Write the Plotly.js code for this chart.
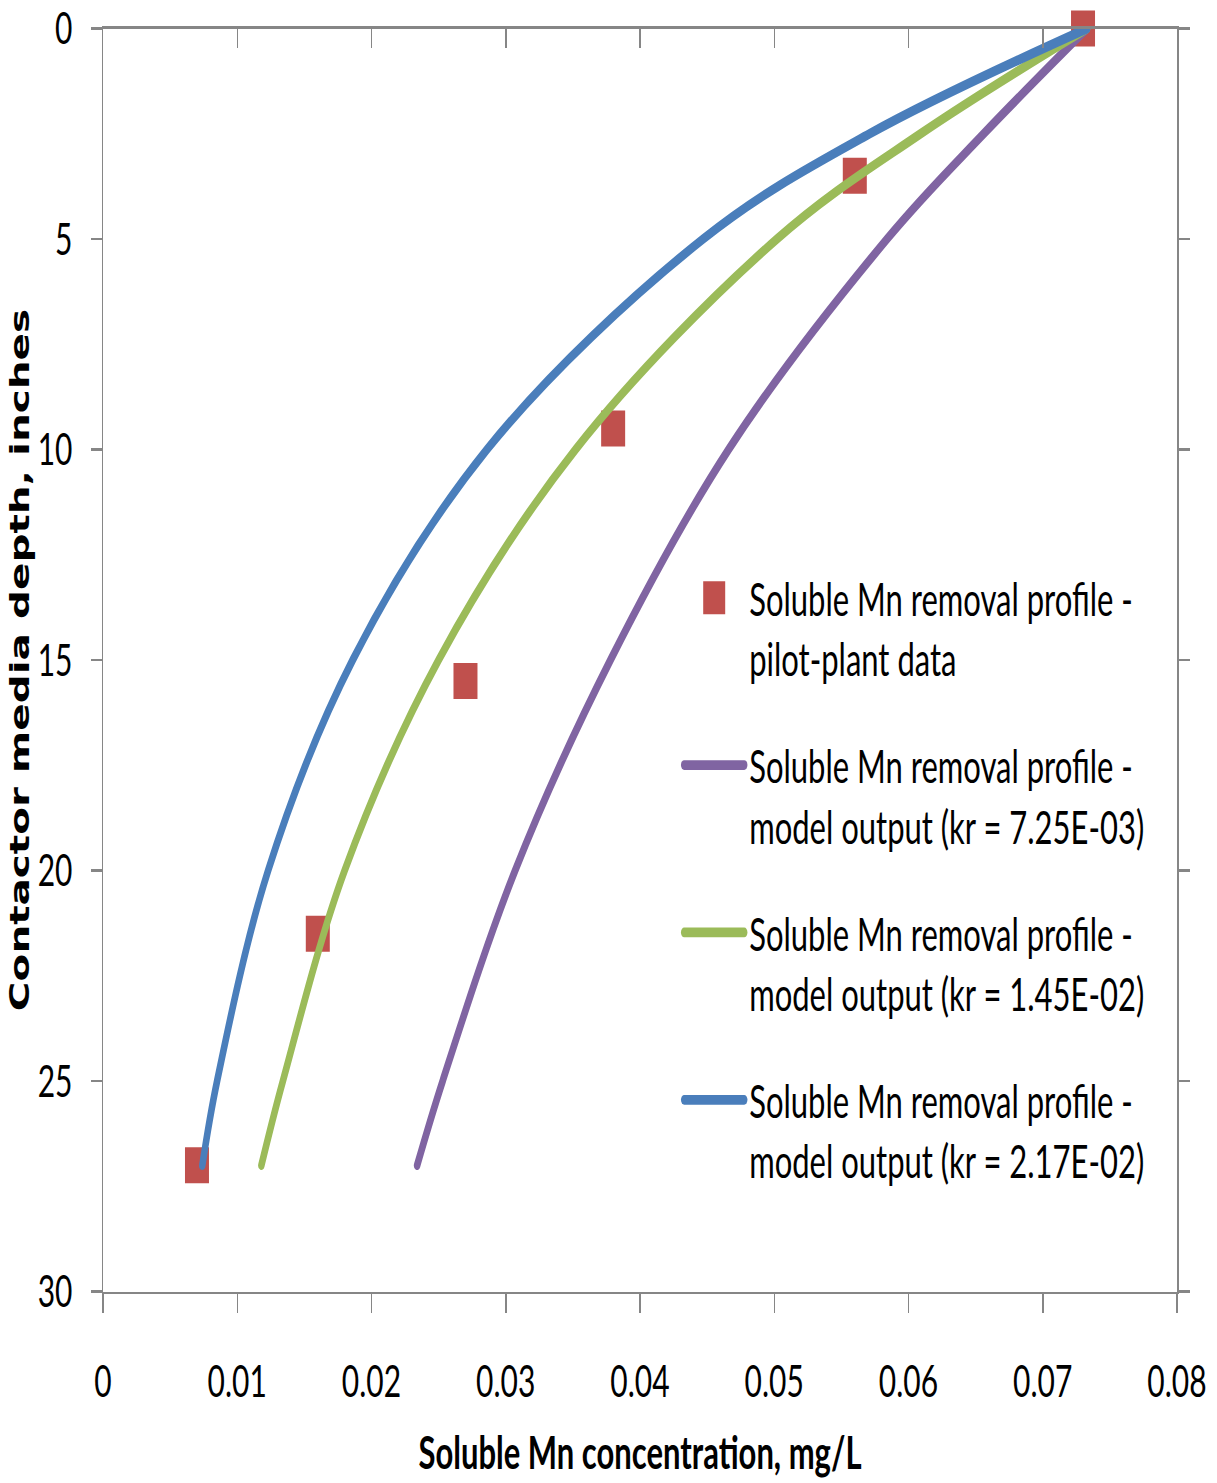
<!DOCTYPE html>
<html>
<head>
<meta charset="utf-8">
<script src="https://cdn.plot.ly/plotly-3.0.1.min.js"></script>
<style>
  html, body { margin: 0; padding: 0; background: #ffffff; overflow: hidden; }
  #wrap { width: 1217px; height: 1483px; overflow: hidden; }
  /* chart is laid out at 2/3 height and stretched vertically */
  #chart { width: 1217px; height: 989px; transform: scaleY(1.5); transform-origin: 0 0; }
  #chart .js-line { stroke-linecap: round; }
</style>
</head>
<body>
<div id="wrap"><div id="chart"></div></div>
<script>
// Pilot-plant measurements
const depthPilot = [0, 3.5, 9.5, 15.5, 21.5, 27];
const concPilot  = [0.073, 0.056, 0.038, 0.027, 0.016, 0.007];

// Model output profiles
const depthModel = [0, 2.5, 5, 10, 15, 20, 25, 27];
const concKr1 = [0.0733, 0.0656, 0.0584, 0.0466, 0.0378, 0.0307, 0.0253, 0.0234]; // kr = 7.25E-03
const concKr2 = [0.0733, 0.0609, 0.0502, 0.0352, 0.0250, 0.0180, 0.0134, 0.0118]; // kr = 1.45E-02
const concKr3 = [0.0733, 0.0571, 0.0447, 0.0286, 0.0186, 0.0123, 0.0085, 0.0074]; // kr = 2.17E-02

const names = [
  'Soluble Mn removal profile -<br>pilot-plant data',
  'Soluble Mn removal profile -<br>model output (kr = 7.25E-03)',
  'Soluble Mn removal profile -<br>model output (kr = 1.45E-02)',
  'Soluble Mn removal profile -<br>model output (kr = 2.17E-02)'
];

const xTicks = [0, 0.01, 0.02, 0.03, 0.04, 0.05, 0.06, 0.07, 0.08];
const xTickText = ['0', '0.01', '0.02', '0.03', '0.04', '0.05', '0.06', '0.07', '0.08'];
const yTicks = [0, 5, 10, 15, 20, 25, 30];

const FONT = 'Lato, "Liberation Sans", sans-serif';
const AXIS = '#868686';

function modelTrace(x, name, color, group) {
  return {
    type: 'scatter', mode: 'lines', x: x, y: depthModel, name: name,
    legendgroup: group,
    line: { color: color, width: 6.5, shape: 'spline', smoothing: 1 },
    cliponaxis: false
  };
}

const traces = [
  {
    type: 'scatter', mode: 'markers', x: concPilot, y: depthPilot, name: names[0],
    legendgroup: 'g0',
    marker: { symbol: 'square', size: 24, color: '#C0504D', line: { width: 0 } },
    cliponaxis: false
  },
  modelTrace(concKr1, names[1], '#8064A2', 'g1'),
  modelTrace(concKr2, names[2], '#9BBB59', 'g2'),
  modelTrace(concKr3, names[3], '#4A7EBB', 'g3'),
  // empty trace so the top frame axis gets drawn
  { type: 'scatter', mode: 'lines', x: [], y: [], xaxis: 'x2', yaxis: 'y', showlegend: false, hoverinfo: 'skip' }
];

const layout = {
  width: 1217, height: 989,
  margin: { l: 103, r: 40, t: 19, b: 128 },
  paper_bgcolor: '#ffffff', plot_bgcolor: '#ffffff',
  font: { family: FONT, color: '#000000', size: 30 },
  showlegend: true,
  legend: {
    x: 0.5365, y: 0.581, xanchor: 'left', yanchor: 'top',
    bgcolor: 'rgba(0,0,0,0)', borderwidth: 0,
    font: { family: FONT, size: 31, color: '#000000' },
    itemwidth: 60, tracegroupgap: 28, itemsizing: 'trace', valign: 'top'
  },
  xaxis: {
    range: [0, 0.08], tickvals: xTicks, ticktext: xTickText,
    showgrid: false, zeroline: false,
    showline: true, linecolor: AXIS, linewidth: 1.5,
    ticks: 'outside', ticklen: 13, tickwidth: 1.5, tickcolor: AXIS,
    ticklabelstandoff: 20,
    tickfont: { family: FONT, size: 30, color: '#000000' },
    title: { text: 'Soluble Mn concentration, mg/L', standoff: 21,
             font: { family: FONT, size: 31, color: '#000000', weight: 'bold' } }
  },
  xaxis2: {
    overlaying: 'x', side: 'top', anchor: 'y', range: [0, 0.08], tickvals: xTicks,
    showticklabels: false, showgrid: false, zeroline: false,
    showline: true, linecolor: AXIS, linewidth: 1.5,
    ticks: 'inside', ticklen: 13, tickwidth: 1.5, tickcolor: AXIS
  },
  yaxis: {
    range: [30, 0], tickvals: yTicks,
    showgrid: false, zeroline: false,
    showline: true, linecolor: AXIS, linewidth: 1.5, mirror: 'ticks',
    ticks: 'outside', ticklen: 11, tickwidth: 1.5, tickcolor: AXIS,
    ticklabelstandoff: 12, ticklabeloverflow: 'allow',
    tickfont: { family: FONT, size: 30, color: '#000000' },
    title: { text: 'Contactor media depth, inches', standoff: 0,
             font: { family: '"DejaVu Sans", sans-serif', size: 27, color: '#000000', weight: 'bold' } }
  }
};

Plotly.newPlot('chart', traces, layout, { displayModeBar: false, staticPlot: true }).then(function (gd) {
  // legend swatches are capped in size; enlarge the square one
  gd.querySelectorAll('.legend .legendpoints path.scatterpts').forEach(function (p) {
    p.setAttribute('d', 'M11,11H-11V-11H11Z');
  });
});
</script>
</body>
</html>
